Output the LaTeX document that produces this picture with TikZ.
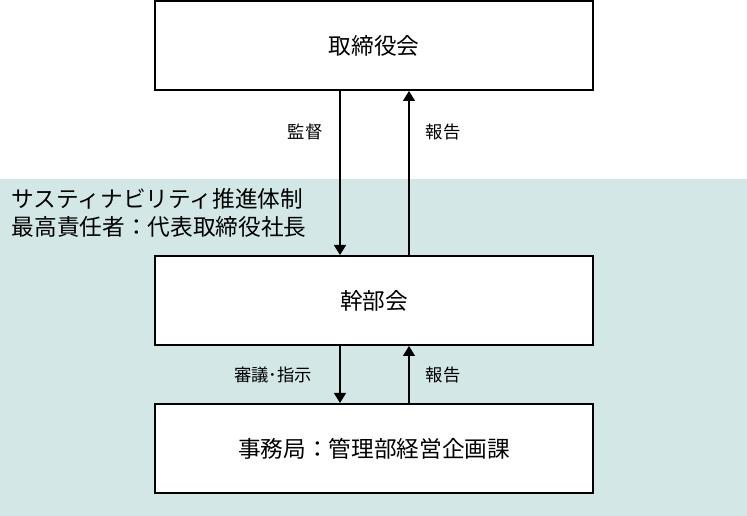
\documentclass[tikz,border=0pt]{standalone}
\usepackage{fontspec}
\setmainfont{Noto Sans CJK JP}
\usetikzlibrary{positioning,arrows.meta}
\definecolor{panelteal}{RGB}{211,232,230}

\begin{document}
\begin{tikzpicture}[x=0.75pt,y=-0.75pt]
    \tikzset{orgbox/.style={draw, line width=1.5pt, fill=white, minimum width=328.5pt, minimum height=66.75pt, font=\fontsize{17pt}{20pt}\selectfont},
             myarrow/.style={-{Triangle[length=7.5pt,width=9pt]}, line width=1.1pt},
             lbl/.style={font=\fontsize{13pt}{15pt}\selectfont}}

    \useasboundingbox (0,0) rectangle (747,516);
    \fill[panelteal] (0,179) rectangle (747,516);

    \draw node[anchor=west, align=left, font=\fontsize{17pt}{21pt}\selectfont] (title) at (7,213) {サスティナビリティ推進体制\\最高責任者：代表取締役社長};

    \draw node[orgbox] (board) at (374,45.5) {取締役会};
    \draw node[orgbox, below=123pt of board] (exec) {幹部会};
    \draw node[orgbox, below=42.75pt of exec] (office) {事務局：管理部経営企画課};

    \coordinate (dn) at (340,0);
    \coordinate (up) at (409,0);

    \draw[myarrow] (board.south -| dn) -- (exec.north -| dn);
    \draw[myarrow] (exec.north -| up) -- (board.south -| up);
    \draw[myarrow] (exec.south -| dn) -- (office.north -| dn);
    \draw[myarrow] (office.north -| up) -- (exec.south -| up);

    \draw node[lbl] (supervise) at (305,132) {監督};
    \draw node[lbl] (report1) at (443,132) {報告};
    \draw node[lbl] (instruct) at (273,375) {審議･指示};
    \draw node[lbl] (report2) at (443,375) {報告};
  \end{tikzpicture}
\end{document}
